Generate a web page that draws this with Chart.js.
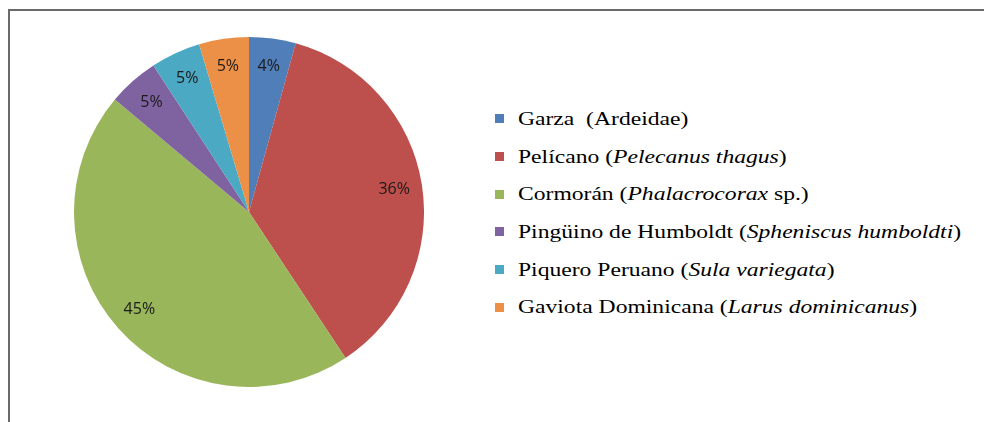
<!DOCTYPE html>
<html>
<head>
<meta charset="utf-8">
<script src="https://cdn.jsdelivr.net/npm/chart.js@4"></script>
<style>
  html, body { margin: 0; padding: 0; background: #fff; }
  body { width: 984px; height: 422px; position: relative; overflow: hidden; }
  #frame {
    position: absolute; left: 8px; top: 9px; width: 1000px; height: 500px;
    border-top: 2px solid #6a6a6a; border-left: 2px solid #6a6a6a;
  }
  #wrap { position: absolute; left: 74px; top: 37px; width: 350px; height: 350px; }
  #legend {
    position: absolute; left: 495px; top: 100px;
    font-family: "Liberation Serif", "Times New Roman", serif; font-size: 19.5px; color: #000;
  }
  .row { height: 37.7px; display: flex; align-items: center; white-space: pre; }
  .box { width: 9px; height: 9px; margin-right: 14px; flex: none; }
  .txt { display: inline-block; transform: scaleX(1.21); transform-origin: left center; }
</style>
</head>
<body>
<div id="frame"></div>
<div id="wrap"><canvas id="pie"></canvas></div>
<div id="legend"></div>
<script>
const names = ["Garza  ", "Pelícano ", "Cormorán ", "Pingüino de Humboldt ", "Piquero Peruano ", "Gaviota Dominicana "];
const sciNames = ["Ardeidae", "Pelecanus thagus", "Phalacrocorax", "Spheniscus humboldti", "Sula variegata", "Larus dominicanus"];
const sciItalic = [false, true, true, true, true, true];
const sciSuffix = ["", "", " sp.", "", "", ""];
const values = [4.3, 36.4, 45.4, 4.7, 4.6, 4.6];
const colors = ["#4F7EB9", "#BD4F4C", "#99B75A", "#7F63A1", "#4BA9C3", "#EC9048"];

const pctLabels = {
  id: "pctLabels",
  afterDatasetsDraw(chart) {
    const c = chart.ctx;
    const meta = chart.getDatasetMeta(0);
    const total = values.reduce((a, b) => a + b, 0);
    c.save();
    c.font = "16px 'Open Sans', sans-serif";
    c.fillStyle = "#1a1a1a";
    c.textAlign = "center";
    c.textBaseline = "middle";
    meta.data.forEach((arc, i) => {
      const p = arc.getProps(["x", "y", "startAngle", "endAngle", "outerRadius"], true);
      const mid = (p.startAngle + p.endAngle) / 2;
      const r = p.outerRadius * 0.84;
      const txt = Math.round(values[i] / total * 100) + "%";
      c.fillText(txt, p.x + Math.cos(mid) * r, p.y + Math.sin(mid) * r);
    });
    c.restore();
  }
};

new Chart(document.getElementById("pie"), {
  type: "pie",
  data: {
    labels: names.map((n, i) => n + "(" + sciNames[i] + sciSuffix[i] + ")"),
    datasets: [{
      data: values,
      backgroundColor: colors,
      borderWidth: 0,
    }],
  },
  options: {
    responsive: true,
    maintainAspectRatio: false,
    animation: false,
    layout: { padding: 0 },
    plugins: {
      legend: { display: false },
      tooltip: { enabled: false },
    }
  },
  plugins: [pctLabels]
});

const legend = document.getElementById("legend");
names.forEach((n, i) => {
  const row = document.createElement("div");
  row.className = "row";
  const box = document.createElement("span");
  box.className = "box";
  box.style.background = colors[i];
  row.appendChild(box);
  const txt = document.createElement("span");
  txt.className = "txt";
  txt.appendChild(document.createTextNode(n + "("));
  const sci = document.createElement("span");
  if (sciItalic[i]) sci.style.fontStyle = "italic";
  sci.textContent = sciNames[i];
  txt.appendChild(sci);
  txt.appendChild(document.createTextNode(sciSuffix[i] + ")"));
  row.appendChild(txt);
  legend.appendChild(row);
});
</script>
</body>
</html>
